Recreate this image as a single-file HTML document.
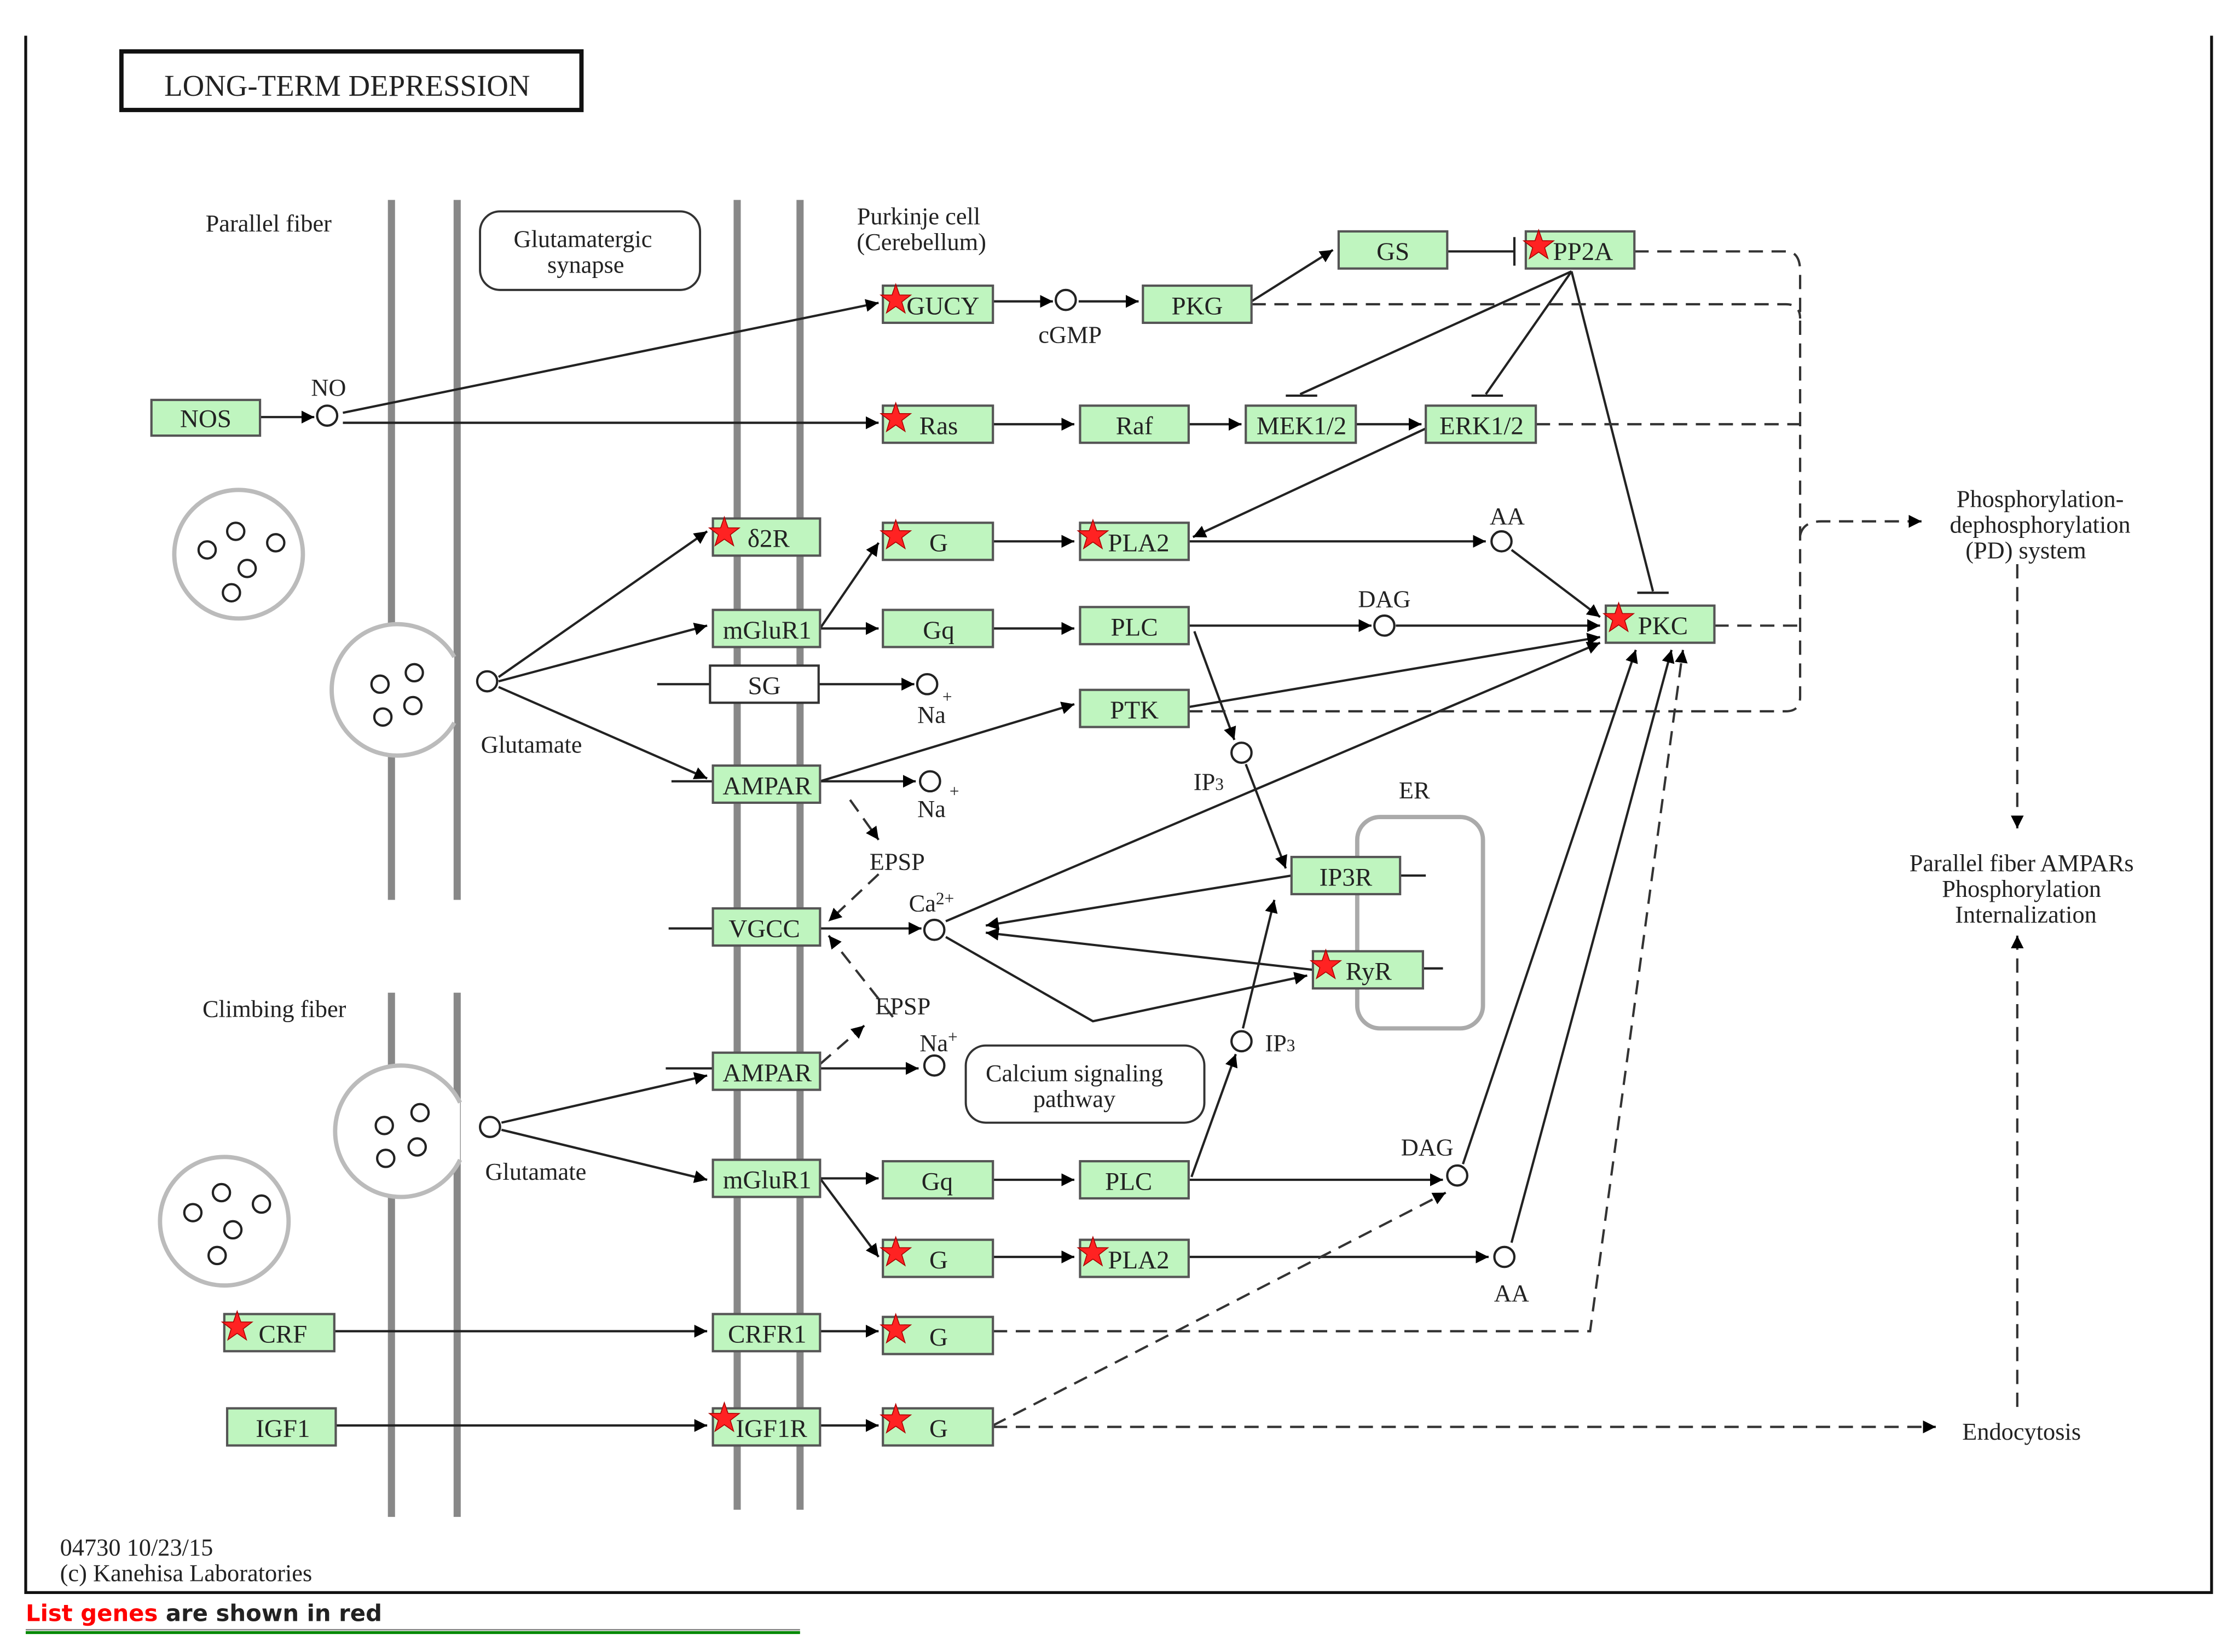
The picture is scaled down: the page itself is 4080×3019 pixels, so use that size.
<!DOCTYPE html>
<html><head><meta charset="utf-8"><style>
html,body{margin:0;padding:0;background:#fff;}
svg{display:block;}
text{font-family:"Liberation Serif",serif;fill:#222;}
</style></head><body>
<svg width="4080" height="3019" viewBox="0 0 1563 1156.6" preserveAspectRatio="none" xmlns="http://www.w3.org/2000/svg">
<defs>
<marker id="a" viewBox="0 0 10 10" refX="10" refY="5" markerWidth="9" markerHeight="9" markerUnits="userSpaceOnUse" orient="auto"><path d="M0,0 L10,5 L0,10 z" fill="#000"/></marker>
<marker id="a2" viewBox="0 0 10 10" refX="10" refY="5" markerWidth="14" markerHeight="12" markerUnits="userSpaceOnUse" orient="auto"><path d="M0,0 L10,5 L0,10 z" fill="#000"/></marker>
<symbol id="star" viewBox="-10 -10 20 20" overflow="visible"><polygon points="0,-11 2.6,-3.5 10.5,-3.4 4.2,1.4 6.5,9 0,4.5 -6.5,9 -4.2,1.4 -10.5,-3.4 -2.6,-3.5" fill="#f22" stroke="#a00" stroke-width="0.6"/></symbol>
</defs>
<rect width="1563" height="1157" fill="#fff"/>
<!-- frame -->
<path d="M18,25 V1115 H1548 V25" fill="none" stroke="#111" stroke-width="2"/>
<rect x="85" y="36" width="322" height="41" fill="#fff" stroke="#111" stroke-width="3"/>
<text x="243" y="67" font-size="21" text-anchor="middle" fill="#222">LONG-TERM  DEPRESSION</text>

<!-- membranes -->
<g stroke="#888" stroke-width="5">
<line x1="274" y1="140" x2="274" y2="630"/><line x1="320" y1="140" x2="320" y2="630"/>
<line x1="274" y1="695" x2="274" y2="1062"/><line x1="320" y1="695" x2="320" y2="1062"/>
<line x1="516" y1="140" x2="516" y2="1057"/><line x1="560" y1="140" x2="560" y2="1057"/>
</g>
<!-- terminals -->
<g fill="#fff" stroke="#bbb" stroke-width="3">
<circle cx="167" cy="388" r="45"/><circle cx="157" cy="855" r="45"/>
<path d="M318,460 A46,46 0 1 0 318,506" /><path d="M322,772 A46,46 0 1 0 322,812"/>
</g>
<g fill="none" stroke="#222" stroke-width="1.6">
<circle cx="145" cy="385" r="6"/><circle cx="165" cy="372" r="6"/><circle cx="193" cy="380" r="6"/><circle cx="173" cy="398" r="6"/><circle cx="162" cy="415" r="6"/>
<circle cx="266" cy="479" r="6"/><circle cx="290" cy="471" r="6"/><circle cx="268" cy="502" r="6"/><circle cx="289" cy="494" r="6"/>
<circle cx="269" cy="788" r="6"/><circle cx="294" cy="779" r="6"/><circle cx="270" cy="811" r="6"/><circle cx="292" cy="803" r="6"/>
<circle cx="135" cy="849" r="6"/><circle cx="155" cy="835" r="6"/><circle cx="183" cy="843" r="6"/><circle cx="163" cy="861" r="6"/><circle cx="152" cy="879" r="6"/>
</g>

<g font-size="17" text-anchor="middle">
<text x="188" y="162">Parallel fiber</text>
<text x="192" y="712">Climbing fiber</text>
<text x="643" y="157">Purkinje cell</text><text x="645" y="175">(Cerebellum)</text>
<text x="230" y="277">NO</text>
<text x="749" y="240">cGMP</text>
<text x="1055" y="367">AA</text>
<text x="969" y="425">DAG</text>
<text x="652" y="506">Na</text><text x="663" y="492" font-size="12">+</text>
<text x="846" y="553">IP<tspan font-size="12">3</tspan></text>
<text x="652" y="572">Na</text><text x="668" y="558" font-size="12">+</text>
<text x="628" y="609">EPSP</text>
<text x="652" y="638">Ca<tspan font-size="12" dy="-5">2+</tspan></text>
<text x="990" y="559">ER</text>
<text x="632" y="710">EPSP</text>
<text x="657" y="736">Na<tspan font-size="12" dy="-6">+</tspan></text>
<text x="896" y="736">IP<tspan font-size="12">3</tspan></text>
<text x="999" y="809">DAG</text>
<text x="1058" y="911">AA</text>
<text x="372" y="527">Glutamate</text>
<text x="375" y="826">Glutamate</text>
<text x="1428" y="355">Phosphorylation-</text><text x="1428" y="373">dephosphorylation</text><text x="1418" y="391">(PD) system</text>
<text x="1415" y="610">Parallel fiber AMPARs</text><text x="1415" y="628">Phosphorylation</text><text x="1418" y="646">Internalization</text>
<text x="1415" y="1008">Endocytosis</text>
</g>
<g font-size="17" text-anchor="start">
<text x="42" y="1089">04730 10/23/15</text>
<text x="42" y="1107">(c) Kanehisa Laboratories</text>
</g>
<text x="18" y="1135" font-size="16" font-weight="bold" style="font-family:'DejaVu Sans',sans-serif" ><tspan fill="#f00">List genes</tspan> are shown in red</text>
<line x1="18" y1="1141" x2="560" y2="1141" stroke="#888" stroke-width="1"/>
<line x1="18" y1="1143" x2="560" y2="1143" stroke="#080" stroke-width="2"/>

<!-- rounded boxes -->
<rect x="336" y="148" width="154" height="55" rx="14" fill="#fff" stroke="#333" stroke-width="1.5"/>
<text x="408" y="173" font-size="17" text-anchor="middle">Glutamatergic</text><text x="410" y="191" font-size="17" text-anchor="middle">synapse</text>
<rect x="676" y="732" width="167" height="54" rx="14" fill="#fff" stroke="#333" stroke-width="1.5"/>
<text x="752" y="757" font-size="17" text-anchor="middle">Calcium signaling</text><text x="752" y="775" font-size="17" text-anchor="middle">pathway</text>
<rect x="950" y="572" width="88" height="148" rx="16" fill="none" stroke="#aaa" stroke-width="3"/>

<!-- solid connectors -->
<g stroke="#222" stroke-width="1.6" fill="none" marker-end="url(#a)">
<line x1="182" y1="292" x2="220" y2="292"/>
<line x1="240" y1="289" x2="615" y2="212"/>
<line x1="240" y1="296" x2="615" y2="296"/>
<line x1="695" y1="211" x2="737" y2="211"/>
<line x1="755" y1="211" x2="797" y2="211"/>
<line x1="876" y1="211" x2="933" y2="175"/>
<line x1="695" y1="297" x2="752" y2="297"/>
<line x1="832" y1="297" x2="869" y2="297"/>
<line x1="949" y1="297" x2="995" y2="297"/>
<line x1="998" y1="300" x2="835" y2="376"/>
<line x1="349" y1="474" x2="495" y2="372"/>
<line x1="349" y1="477" x2="495" y2="438"/>
<line x1="349" y1="481" x2="495" y2="545"/>
<line x1="574" y1="440" x2="615" y2="380"/>
<line x1="574" y1="440" x2="615" y2="440"/>
<line x1="695" y1="379" x2="752" y2="379"/>
<line x1="695" y1="440" x2="752" y2="440"/>
<line x1="832" y1="379" x2="1040" y2="379"/>
<line x1="1058" y1="385" x2="1120" y2="432"/>
<line x1="832" y1="438" x2="960" y2="438"/>
<line x1="977" y1="438" x2="1120" y2="438"/>
<line x1="836" y1="442" x2="864" y2="518"/>
<line x1="872" y1="535" x2="900" y2="608"/>
<line x1="573" y1="479" x2="640" y2="479"/>
<line x1="574" y1="547" x2="641" y2="547"/>
<line x1="574" y1="547" x2="752" y2="493"/>
<line x1="832" y1="495" x2="1120" y2="446"/>
<line x1="574" y1="650" x2="645" y2="650"/>
<line x1="662" y1="645" x2="1120" y2="450"/>
<line x1="904" y1="613" x2="690" y2="648"/>
<line x1="919" y1="679" x2="690" y2="653"/>
<polyline points="662,656 765,715 915,683"/>
<line x1="574" y1="748" x2="643" y2="748"/>
<line x1="351" y1="786" x2="495" y2="753"/>
<line x1="351" y1="791" x2="495" y2="826"/>
<line x1="574" y1="825" x2="615" y2="825"/>
<line x1="574" y1="825" x2="615" y2="880"/>
<line x1="695" y1="826" x2="752" y2="826"/>
<line x1="832" y1="826" x2="1010" y2="826"/>
<line x1="834" y1="824" x2="865" y2="738"/>
<line x1="870" y1="720" x2="892" y2="630"/>
<line x1="695" y1="880" x2="752" y2="880"/>
<line x1="832" y1="880" x2="1042" y2="880"/>
<line x1="1058" y1="870" x2="1170" y2="455"/>
<line x1="1024" y1="815" x2="1145" y2="455"/>
<line x1="234" y1="932" x2="495" y2="932"/>
<line x1="574" y1="932" x2="615" y2="932"/>
<line x1="235" y1="998" x2="495" y2="998"/>
<line x1="574" y1="998" x2="615" y2="998"/>
</g>
<g stroke="#222" stroke-width="1.6" fill="none">
<line x1="460" y1="479" x2="497" y2="479"/>
<line x1="470" y1="547" x2="499" y2="547"/>
<line x1="468" y1="650" x2="499" y2="650"/>
<line x1="466" y1="748" x2="499" y2="748"/>
<line x1="980" y1="613" x2="998" y2="613"/>
<line x1="996" y1="678" x2="1010" y2="678"/>
<line x1="1013" y1="176" x2="1060" y2="176"/><line x1="1060" y1="166" x2="1060" y2="186"/>
<line x1="1100" y1="190" x2="910" y2="276"/><line x1="900" y1="277" x2="922" y2="277"/>
<line x1="1100" y1="190" x2="1040" y2="276"/><line x1="1030" y1="277" x2="1052" y2="277"/>
<line x1="1100" y1="190" x2="1157" y2="414"/><line x1="1146" y1="415" x2="1168" y2="415"/>
</g>
<!-- dashed -->
<g stroke="#333" stroke-width="1.6" fill="none" stroke-dasharray="10,6">
<path d="M1144,176 H1250 Q1260,176 1260,190 V488 Q1260,498 1250,498 H832"/>
<path d="M876,213 H1250 Q1260,213 1260,223"/>
<line x1="1075" y1="297" x2="1260" y2="297"/>
<line x1="1200" y1="438" x2="1260" y2="438"/>
<path d="M1260,375 Q1262,365 1275,365 H1345" marker-end="url(#a)"/>
<line x1="1412" y1="395" x2="1412" y2="580" marker-end="url(#a)"/>
<line x1="1412" y1="985" x2="1412" y2="655" marker-end="url(#a)"/>
<line x1="695" y1="999" x2="1355" y2="999" marker-end="url(#a)"/>
<line x1="695" y1="998" x2="1012" y2="835" marker-end="url(#a)"/>
<polyline points="695,932 1113,932 1178,455" marker-end="url(#a)"/>
<line x1="595" y1="560" x2="615" y2="588" marker-end="url(#a)"/>
<line x1="615" y1="612" x2="580" y2="645" marker-end="url(#a)"/>
<line x1="625" y1="712" x2="580" y2="655" marker-end="url(#a)"/>
<line x1="574" y1="745" x2="605" y2="718" marker-end="url(#a)"/>
</g>
<!-- small circles -->
<g fill="#fff" stroke="#222" stroke-width="1.6">
<circle cx="229" cy="291" r="7"/><circle cx="746" cy="210" r="7"/><circle cx="1051" cy="379" r="7"/><circle cx="969" cy="438" r="7"/>
<circle cx="649" cy="479" r="7"/><circle cx="869" cy="527" r="7"/><circle cx="651" cy="547" r="7"/><circle cx="654" cy="651" r="7"/>
<circle cx="654" cy="746" r="7"/><circle cx="869" cy="729" r="7"/><circle cx="1020" cy="823" r="7"/><circle cx="1053" cy="880" r="7"/>
<circle cx="341" cy="477" r="7"/><circle cx="343" cy="789" r="7"/>
</g>
<!-- gene boxes -->
<g fill="#bff5bf" stroke="#555" stroke-width="1.6">
<rect x="106" y="280" width="76" height="25"/>
<rect x="618" y="200" width="77" height="26"/><rect x="800" y="200" width="76" height="26"/>
<rect x="937" y="162" width="76" height="26"/><rect x="1068" y="162" width="76" height="26"/>
<rect x="618" y="284" width="77" height="26"/><rect x="756" y="284" width="76" height="26"/>
<rect x="872" y="284" width="77" height="26"/><rect x="998" y="284" width="77" height="26"/>
<rect x="499" y="363" width="75" height="26"/><rect x="618" y="366" width="77" height="26"/><rect x="756" y="366" width="76" height="26"/>
<rect x="499" y="427" width="75" height="26"/><rect x="618" y="427" width="77" height="26"/><rect x="756" y="425" width="76" height="26"/>
<rect x="1124" y="424" width="76" height="26"/>
<rect x="756" y="483" width="76" height="26"/><rect x="499" y="536" width="75" height="26"/>
<rect x="904" y="600" width="76" height="26"/><rect x="499" y="636" width="75" height="26"/><rect x="919" y="666" width="77" height="26"/>
<rect x="499" y="737" width="75" height="26"/><rect x="499" y="812" width="75" height="26"/>
<rect x="618" y="813" width="77" height="26"/><rect x="756" y="813" width="76" height="26"/>
<rect x="618" y="868" width="77" height="26"/><rect x="756" y="868" width="76" height="26"/>
<rect x="157" y="920" width="77" height="26"/><rect x="499" y="920" width="75" height="26"/><rect x="618" y="922" width="77" height="26"/>
<rect x="159" y="986" width="76" height="26"/><rect x="499" y="986" width="75" height="26"/><rect x="618" y="986" width="77" height="26"/>
</g>
<rect x="497" y="466" width="76" height="26" fill="#fff" stroke="#333" stroke-width="1.6"/>
<g font-size="18" text-anchor="middle" fill="#222">
<text x="144" y="299">NOS</text>
<text x="660" y="220">GUCY</text><text x="838" y="220">PKG</text><text x="975" y="182">GS</text><text x="1108" y="182">PP2A</text>
<text x="657" y="304">Ras</text><text x="794" y="304">Raf</text><text x="911" y="304">MEK1/2</text><text x="1037" y="304">ERK1/2</text>
<text x="538" y="383">δ2R</text><text x="657" y="386">G</text><text x="797" y="386">PLA2</text>
<text x="537" y="447">mGluR1</text><text x="657" y="447">Gq</text><text x="794" y="445">PLC</text>
<text x="1164" y="444">PKC</text>
<text x="535" y="486">SG</text><text x="794" y="503">PTK</text><text x="537" y="556">AMPAR</text>
<text x="942" y="620">IP3R</text><text x="535" y="656">VGCC</text><text x="958" y="686">RyR</text>
<text x="537" y="757">AMPAR</text><text x="537" y="832">mGluR1</text>
<text x="656" y="833">Gq</text><text x="790" y="833">PLC</text>
<text x="657" y="888">G</text><text x="797" y="888">PLA2</text>
<text x="198" y="940">CRF</text><text x="537" y="940">CRFR1</text><text x="657" y="942">G</text>
<text x="198" y="1006">IGF1</text><text x="540" y="1006">IGF1R</text><text x="657" y="1006">G</text>
</g>
<!-- stars -->
<g>
<use href="#star" x="617" y="200" width="20" height="20"/>
<use href="#star" x="1067" y="162" width="20" height="20"/>
<use href="#star" x="617" y="283" width="20" height="20"/>
<use href="#star" x="497" y="363" width="20" height="20"/>
<use href="#star" x="617" y="365" width="20" height="20"/>
<use href="#star" x="755" y="365" width="20" height="20"/>
<use href="#star" x="1123" y="423" width="20" height="20"/>
<use href="#star" x="918" y="666" width="20" height="20"/>
<use href="#star" x="617" y="867" width="20" height="20"/>
<use href="#star" x="755" y="867" width="20" height="20"/>
<use href="#star" x="156" y="919" width="20" height="20"/>
<use href="#star" x="617" y="921" width="20" height="20"/>
<use href="#star" x="497" y="983" width="20" height="20"/>
<use href="#star" x="617" y="984" width="20" height="20"/>
</g>
</svg>
</body></html>
